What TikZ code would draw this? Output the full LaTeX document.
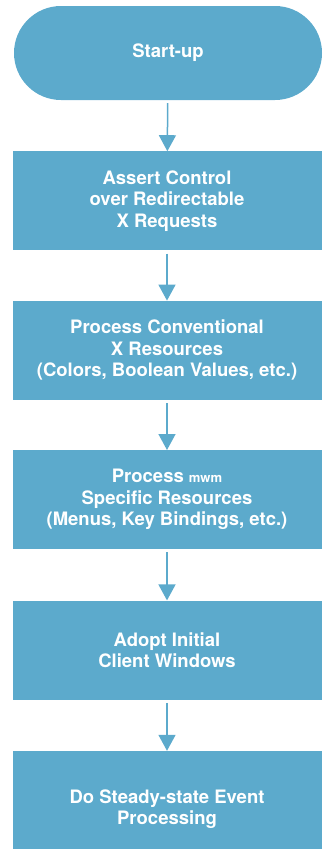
\documentclass[tikz,border=0pt]{standalone}
\usepackage{fontspec}
\setsansfont{TeX Gyre Heros}
\usepackage{tikz}
\usetikzlibrary{positioning, arrows.meta}

\definecolor{flowblue}{RGB}{92,170,204}

\tikzset{
  stepbox/.style={fill=flowblue, minimum width=309pt, minimum height=99pt,
    align=center, text=white, font=\sffamily\bfseries\fontsize{18.5}{21.5}\selectfont},
  startbox/.style={stepbox, rounded corners=47pt, minimum width=308pt, minimum height=94pt},
  flow/.style={-{Triangle[length=16pt, width=17pt]}, line width=1.5pt, draw=flowblue, shorten <=3pt}
}

\begin{document}
\begin{tikzpicture}
      \useasboundingbox (0pt, 0pt) rectangle (323pt, -849pt);

      \node[startbox] (start) at (168pt, -53pt) {Start-up};
      \node[stepbox, below=51pt of start, xshift=-1pt] (assert) {Assert Control\\over Redirectable\\X Requests};
      \node[stepbox, below=50pt of assert] (convres) {Process Conventional\\X Resources\\(Colors, Boolean Values, etc.)};
      \node[stepbox, below=50pt of convres] (mwmres) {Process {\fontsize{13}{21.5}\selectfont mwm}\\Specific Resources\\(Menus, Key Bindings, etc.)};
      \node[stepbox, below=51pt of mwmres] (adopt) {Adopt Initial\\Client Windows};
      \node[stepbox, below=51pt of adopt, minimum height=116pt, anchor=north] (steady) {Do Steady-state Event\\Processing};

      \draw[flow] (start) -- (assert);
      \draw[flow] (assert) -- (convres);
      \draw[flow] (convres) -- (mwmres);
      \draw[flow] (mwmres) -- (adopt);
      \draw[flow] (adopt) -- (steady);

    \end{tikzpicture}
\end{document}
